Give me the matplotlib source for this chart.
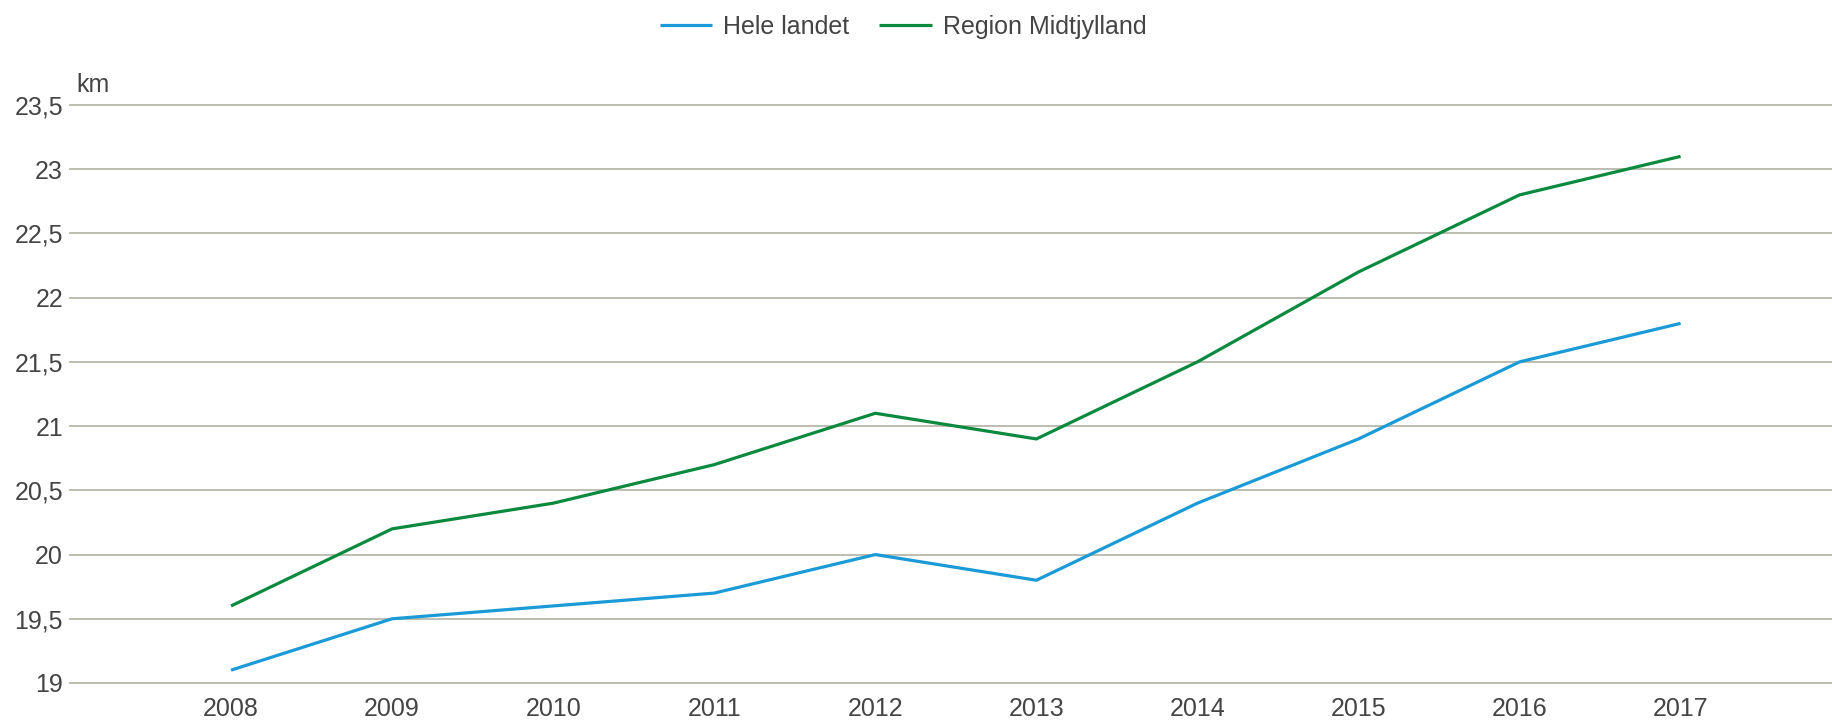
import matplotlib
matplotlib.use("Agg")
import matplotlib.pyplot as plt
from matplotlib.ticker import FuncFormatter

years = [2008, 2009, 2010, 2011, 2012, 2013, 2014, 2015, 2016, 2017]
hele_landet = [19.1, 19.5, 19.6, 19.7, 20.0, 19.8, 20.4, 20.9, 21.5, 21.8]
midtjylland = [19.6, 20.2, 20.4, 20.7, 21.1, 20.9, 21.5, 22.2, 22.8, 23.1]
y_ticks = [19, 19.5, 20, 20.5, 21, 21.5, 22, 22.5, 23, 23.5]

text_color = "#444444"
grid_color = "#b8b8aa"
fs = 18

plt.rcParams["font.family"] = ["Liberation Sans", "DejaVu Sans"]

fig = plt.figure(figsize=(18.32, 7.24), dpi=100)
ax = fig.add_axes([70 / 1832, 1 - 683 / 724, 1 - 70 / 1832, (683 - 105) / 724])

ax.plot(years, hele_landet, color="#1a9ad6", lw=2.3, label="Hele landet",
        solid_capstyle="butt", zorder=3)
ax.plot(years, midtjylland, color="#0b8a3f", lw=2.3, label="Region Midtjylland",
        solid_capstyle="butt", zorder=3)

ax.set_xlim(2007, 2017.94)
ax.set_ylim(19, 23.5)
ax.set_xticks(years)
ax.set_yticks(y_ticks)
ax.yaxis.set_major_formatter(FuncFormatter(lambda v, p: f"{v:g}".replace(".", ",")))

ax.grid(axis="y", color=grid_color, lw=1.3, zorder=0)
for gl in ax.get_ygridlines():
    gl.set_clip_on(False)
for s in ax.spines.values():
    s.set_visible(False)
ax.tick_params(axis="both", length=0, labelsize=fs, labelcolor=text_color)
ax.tick_params(axis="y", pad=5)
ax.tick_params(axis="x", pad=10)

# unit label above the y axis
ax.text(0.0034, 1.0225, "km", transform=ax.transAxes, fontsize=fs,
        color=text_color, ha="left", va="baseline")

fig.legend(loc="center", bbox_to_anchor=(0.493, 1 - 27 / 724), ncol=2, frameon=False,
           fontsize=fs, labelcolor=text_color, handlelength=2.1,
           handletextpad=0.45, columnspacing=1.2)

fig.savefig("out.png", dpi=100, facecolor="white")
